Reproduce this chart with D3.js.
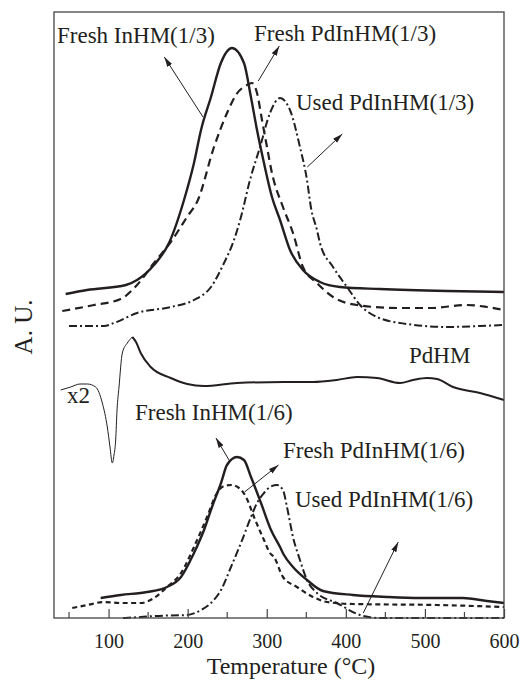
<!DOCTYPE html>
<html>
<head>
<meta charset="utf-8">
<script src="https://cdnjs.cloudflare.com/ajax/libs/d3/7.8.5/d3.min.js"></script>
<style>body{margin:0;background:#fff}</style>
</head>
<body>
<script>
// temperature (°C), signal (A.U.)
const xTicks = [100, 200, 300, 400, 500, 600]
const xMinorTicks = [50, 150, 250, 350, 450, 550]

const freshInHM13 = [[45.8,324],[72.7,328],[122,333],[136,338],[157.4,353],[176.4,375],[195.4,418],[208,455],[216.9,488],[229.5,521],[242,555],[256,570],[271.2,555],[280,521],[287.7,488],[296.5,455],[306.6,421],[316.8,398],[329.4,368],[345.8,348],[367.3,336],[392.6,331],[443.2,329],[528,327],[600,326]]
const freshPdInHM13 = [[41.5,307],[81.6,313],[115.3,319],[136,333],[157.4,355],[178.6,376],[199.2,401],[213,418],[233.3,471],[249.8,505],[261,523],[275,533],[281.3,535],[287.7,525],[294,498],[300.3,471],[306.6,445],[320.5,411],[333.2,385],[345.8,351],[363.5,335],[383.8,321],[414,313],[464.7,310],[506.4,310],[553.2,313],[578.5,311],[600,308]]
const usedPdInHM13 = [[50,292],[94.2,292],[106.9,295],[136,305],[178.9,311],[208,318],[229.5,331],[246,355],[258.6,378],[267.4,401],[278.8,438],[291.5,471],[304.1,505],[316.8,520],[329.4,508],[342,471],[350.9,438],[356,410],[363.5,388],[367.3,375],[383.8,351],[401.5,331],[418,313],[439.4,301],[477.3,294],[527.9,291],[569.6,292],[600,293]]
const pdHMx2 = [[39.5,228],[52.1,231],[63.9,234],[73.1,234],[83.7,231],[92.1,215],[98.4,191],[101.8,171],[104.7,155],[106.9,163],[109,178],[110.7,208],[113.2,231],[117.4,265],[123.7,275],[130,281]]
const pdHM = [[130,281],[134.7,276],[140.6,265],[153.3,251],[178.6,240],[199.5,234],[220.7,232],[262.4,235],[321.8,236],[358.5,236],[388.6,238],[414.1,241],[439.4,240],[468.5,235],[485,238],[502.6,240],[515.3,239],[535.5,231],[569.6,225],[600,218]]
const freshInHM16 = [[90,20],[115.3,23],[148.8,26],[173.9,31],[191.6,41],[208,65],[220.7,88],[230.8,111],[242.2,135],[249.7,153],[262.4,161],[271.2,158],[280.1,141],[292.7,115],[305.4,88],[316.8,71],[321.8,63],[333.2,51],[350.9,38],[371.1,27],[409,23],[452,21],[493.8,20],[548.1,20],[578.5,17],[600,15]]
const freshPdInHM16 = [[54.1,10],[73.1,13],[94.2,16],[115.3,15],[140.6,15],[157.4,20],[173.9,31],[191.6,45],[208,71],[224.5,101],[237.1,125],[246,132],[254.8,133],[264.9,130],[273.8,121],[283.9,101],[296.5,78],[304.1,65],[309.2,61],[320.5,41],[338.2,31],[358.5,21],[376.2,16],[409,14],[515.3,13],[600,11]]
const usedPdInHM16 = [[118.2,0],[141,1],[157.4,2],[199.2,3],[216.9,8],[229.5,15],[242.2,28],[254.8,51],[267.4,75],[280.1,101],[287.7,115],[296.5,125],[304.1,131],[313,133],[320.5,128],[325.6,111],[333.2,81],[342,58],[350.9,38],[363.5,25],[388.6,15],[417.9,3],[443.2,0],[600,0]]

const labels = [
    {text: 'Fresh InHM(1/3)', t: 34.8, v: 575},
    {text: 'Fresh PdInHM(1/3)', t: 283.9, v: 577},
    {text: 'Used PdInHM(1/3)', t: 337, v: 508},
    {text: 'PdHM', t: 479.9, v: 255},
    {text: 'x2', t: 47.4, v: 215},
    {text: 'Fresh InHM(1/6)', t: 133.4, v: 198},
    {text: 'Fresh PdInHM(1/6)', t: 320.5, v: 160},
    {text: 'Used PdInHM(1/6)', t: 335.7, v: 111}
]
const arrows = [
    [[219.4,501],[170.5,561]],
    [[289.3,537],[315.9,572]],
    [[351.3,451],[395.5,484]],
    [[252.3,158],[235.8,180]],
    [[271.9,126],[314.9,153]],
    [[422,5],[466.3,76]]
]

const width = 520, height = 684
const margin = {left: 54, right: 16, top: 12, bottom: 66}
const ink = '#231f20'
const font = '"Liberation Serif", "Times New Roman", serif'

let svg = d3.select('body').append('svg')
            .attr('width', width)
            .attr('height', height)

svg.append('rect').attr('width', '100%').attr('height', '100%').attr('fill', 'white')

let x = d3.scaleLinear().domain([31, 600]).range([margin.left, width - margin.right])
let y = d3.scaleLinear().domain([0, 606]).range([height - margin.bottom, margin.top])

svg.append('defs').append('marker')
    .attr('id', 'head')
    .attr('markerUnits', 'userSpaceOnUse')
    .attr('viewBox', '0 -4 10 8')
    .attr('refX', 10).attr('refY', 0)
    .attr('markerWidth', 10).attr('markerHeight', 8)
    .attr('orient', 'auto')
    .append('path').attr('d', 'M0,-2.8L10,0L0,2.8Z').attr('fill', ink)

let line = d3.line().x(d => x(d[0])).y(d => y(d[1])).curve(d3.curveMonotoneX)

function drawSeries(data, strokeWidth, dash) {
    svg.append('path')
        .datum(data)
        .attr('d', line)
        .attr('fill', 'none')
        .attr('stroke', ink)
        .attr('stroke-width', strokeWidth)
        .attr('stroke-dasharray', dash)
        .attr('stroke-linejoin', 'round')
}

drawSeries(freshInHM13, 2.4, null)
drawSeries(freshPdInHM13, 2.2, '8,5')
drawSeries(usedPdInHM13, 2, '8,3,2,3')
drawSeries(pdHMx2, 1, null)
drawSeries(pdHM, 2, null)
drawSeries(freshInHM16, 2.4, null)
drawSeries(freshPdInHM16, 2.2, '5,3.5')
drawSeries(usedPdInHM16, 2, '8,3,2,3')

// frame
svg.append('rect')
    .attr('x', x.range()[0]).attr('y', y.range()[1])
    .attr('width', x.range()[1] - x.range()[0])
    .attr('height', y.range()[0] - y.range()[1])
    .attr('fill', 'none')
    .attr('stroke', '#444')
    .attr('stroke-width', 1.3)

// inward ticks on the bottom axis
let axis = svg.append('g').attr('transform', `translate(0,${y.range()[0]})`)
axis.call(d3.axisBottom(x).tickValues(xTicks).tickSizeInner(-9).tickSizeOuter(0).tickPadding(16))
axis.select('.domain').remove()
axis.selectAll('line').attr('stroke', '#444').attr('stroke-width', 1.2)
axis.selectAll('text').attr('font-family', font).attr('font-size', '20px').attr('fill', ink)
axis.selectAll('.minor').data(xMinorTicks).enter().append('line')
    .attr('x1', d => x(d)).attr('x2', d => x(d))
    .attr('y1', 0).attr('y2', -6)
    .attr('stroke', '#444').attr('stroke-width', 1.2)

svg.append('text')
    .attr('x', 291).attr('y', 674)
    .attr('text-anchor', 'middle')
    .attr('font-family', font).attr('font-size', '24px').attr('fill', ink)
    .text('Temperature (°C)')

svg.append('text')
    .attr('transform', 'translate(32,327) rotate(-90)')
    .attr('text-anchor', 'middle')
    .attr('font-family', font).attr('font-size', '25px').attr('fill', ink)
    .text('A. U.')

for (let a of arrows) {
    svg.append('line')
        .attr('x1', x(a[0][0])).attr('y1', y(a[0][1]))
        .attr('x2', x(a[1][0])).attr('y2', y(a[1][1]))
        .attr('stroke', ink).attr('stroke-width', 1)
        .attr('marker-end', 'url(#head)')
}

for (let l of labels) {
    svg.append('text')
        .attr('x', x(l.t)).attr('y', y(l.v))
        .attr('font-family', font).attr('font-size', '23px').attr('fill', ink)
        .text(l.text)
}
</script>
</body>
</html>
